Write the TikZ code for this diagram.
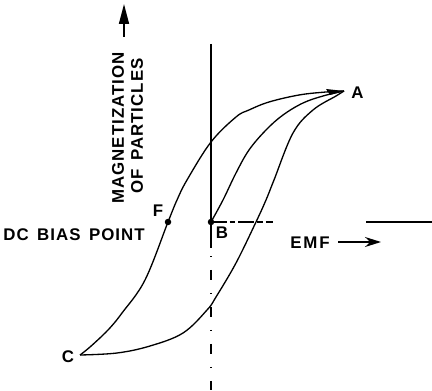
\documentclass[tikz,border=0pt]{standalone}
\usepackage{fontspec}
\setmainfont{Liberation Sans}
\newfontfamily\lblfont[LetterSpace=6]{Liberation Sans}
\usetikzlibrary{arrows.meta}
\tikzset{
  axisline/.style={line width=0.8pt},
  loopline/.style={line width=0.75pt, line join=round},
  lbl/.style={font=\lblfont\fontsize{9.6}{11}\selectfont\bfseries, inner sep=0pt},
  biasdot/.style={fill=black, circle, inner sep=0pt, minimum size=1.3mm}
}
\begin{document}
\begin{tikzpicture}[x=0.02cm, y=-0.02cm]
  \useasboundingbox (0,0) rectangle (432,391);

  % Ana noktalar
  \coordinate (A) at (344,91);
  \coordinate (B) at (211,222);
  \coordinate (C) at (80,355);
  \coordinate (F) at (168,222);
  \coordinate (top) at (211,44);
  \coordinate (bot) at (211,390);

  % Dikey eksen (düz ve kesik-noktalı)
  \draw[axisline] (top) -- (211,248);
  \draw[line width=0.6pt, dash pattern=on 0.2mm off 2.6mm on 2mm off 2.6mm] (211,256) -- (bot);

  % Yatay eksen
  \draw[axisline, dash pattern=on 3.2mm off 0.5mm on 1.2mm off 0.6mm] (B) -- (273,222);
  \draw[axisline] (366,222) -- (432,222);

  % Histerezis çevrimi, üst kol
  \draw[loopline] plot[smooth, tension=0.6] coordinates {
    (C) (90,347) (108,330) (122,313) (145,280) (F) (177,200) (187,180)
    (211,142) (236,117) (249,110) (269,102) (299,95) (326,92) (A)};

  % Histerezis çevrimi, alt kol
  \draw[loopline] plot[smooth, tension=0.6] coordinates {
    (C) (117,353) (150,346) (183,333) (207,310) (216,297) (236,263)
    (256,222) (266,200) (274,180) (293,133) (313,110) (336,96) (A)};

  % İlk mıknatıslanma eğrisi
  \draw[loopline] plot[smooth, tension=0.6] coordinates {
    (B) (223,200) (236,173) (249,150) (266,130) (283,115) (303,103) (323,96) (A)};

  % A ucu
  \fill (326,89) -- (A) -- (330,95) -- cycle;

  % Noktalar
  \node[biasdot] (Fdot) at (F) {};
  \node[biasdot] (Bdot) at (B) {};

  % Etiketler
  \node[lbl, anchor=west] (labA) at (351,93) {A};
  \node[lbl] (labC) at (68,357) {C};
  \node[lbl] (labB) at (222,233) {B};
  \node[lbl] (labF) at (158,211) {F};
  \node[lbl] (bias) at (74,235) {DC\, BIAS\, POINT};
  \node[lbl] (emf) at (310,243) {E\kern1pt M\kern1pt F};
  \node[lbl, rotate=90] (magn) at (118,128) {MAGNETIZATION};
  \node[lbl, rotate=90] (part) at (137,126) {OF\, PARTICLES};

  % Oklar
  \coordinate (upS) at (124,37);
  \coordinate (upE) at (124,4);
  \draw[line width=0.9pt, -{Triangle[width=2mm, length=4mm]}] (upS) -- (upE);
  \coordinate (emfS) at (338,242);
  \coordinate (emfE) at (381,242);
  \draw[line width=0.9pt, -{Stealth[width=2mm, length=3.2mm]}] (emfS) -- (emfE);
\end{tikzpicture}
\end{document}
